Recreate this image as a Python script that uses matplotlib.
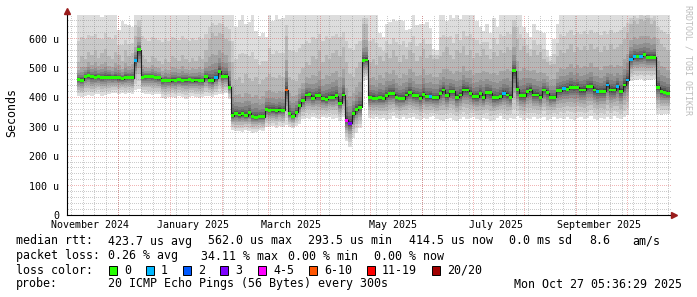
import numpy as np
import matplotlib
matplotlib.use("Agg")
import matplotlib.pyplot as plt
import matplotlib.dates as mdates
from matplotlib.patches import Rectangle
from matplotlib.transforms import IdentityTransform

plt.rcParams['font.family'] = ['DejaVu Sans Mono']

nan = np.nan

# RRD steps of 2 days starting 2024-11-01, values in microseconds
start = np.datetime64('2024-11-01T00:00')
end = np.datetime64('2025-10-27T05:36')
step_days = 2

median = [
    nan, nan, nan, 462, 458, 472, 474, 470, 468, 470,
    467, 468, 469, 467, 468, 466, 464, 467, 468, 467,
    525, 562, 468, 470, 472, 471, 467, 466, 457, 458,
    457, 459, 458, 460, 458, 459, 460, 457, 459, 458,
    457, 470, 458, 456, 466, 488, 471, 472, 434, 337,
    345, 340, 344, 338, 347, 335, 332, 334, 334, 360,
    356, 357, 354, 357, 356, 425, 345, 336, 350, 372,
    390, 408, 409, 397, 405, 406, 395, 393, 400, 401,
    405, 380, 408, 322, 312, 345, 358, 366, 526, 527,
    400, 397, 397, 398, 396, 405, 414, 412, 400, 397,
    396, 408, 416, 405, 405, 397, 410, 402, 402, 398,
    398, 414, 425, 405, 420, 420, 400, 408, 425, 425,
    414, 402, 402, 414, 398, 416, 416, 398, 398, 402,
    414, 408, 400, 490, 428, 405, 405, 420, 425, 408,
    408, 400, 425, 416, 400, 400, 423, 423, 430, 428,
    434, 434, 434, 425, 425, 437, 437, 425, 420, 420,
    420, 442, 425, 425, 437, 420, 442, 459, 530, 539,
    539, 539, 545, 537, 537, 537, 434, 420, 418, 414,
]

# lost pings (of 20) per step, all other steps had no loss
lost_pings = {20: 1, 44: 1, 65: 7, 83: 4, 84: 3, 108: 1, 130: 1, 148: 1,
              158: 1, 161: 1, 164: 1, 167: 1, 168: 1, 169: 1, 171: 1}

# fastest ping per step
smoke_lo = [
    nan, nan, nan, 404, 402, 406, 408, 404, 410, 412,
    405, 408, 411, 414, 416, 413, 415, 412, 414, 410,
    425, 430, 414, 412, 410, 408, 412, 410, 398, 396,
    400, 402, 398, 404, 400, 396, 402, 405, 400, 398,
    402, 406, 404, 400, 408, 412, 410, 415, 395, 290,
    284, 286, 282, 290, 285, 280, 283, 288, 285, 300,
    298, 302, 296, 304, 300, 306, 300, 296, 304, 310,
    325, 330, 328, 333, 330, 326, 332, 330, 334, 328,
    330, 320, 332, 250, 232, 262, 280, 295, 455, 458,
    330, 328, 332, 325, 330, 322, 328, 335, 330, 326,
    332, 325, 330, 334, 328, 322, 330, 327, 332, 335,
    328, 322, 318, 326, 330, 324, 320, 328, 332, 325,
    330, 334, 326, 322, 330, 328, 318, 324, 330, 335,
    326, 322, 330, 328, 335, 330, 324, 330, 328, 332,
    326, 330, 334, 322, 328, 332, 325, 330, 326, 334,
    328, 324, 330, 332, 326, 330, 335, 328, 322, 330,
    326, 332, 328, 335, 330, 326, 332, 340, 455, 460,
    458, 462, 456, 460, 458, 462, 345, 340, 342, 344,
]

# upper edge of the bulk of the pings
smoke_up = [
    nan, nan, nan, 520, 540, 530, 555, 545, 560, 535,
    550, 565, 540, 530, 555, 545, 525, 560, 540, 550,
    610, 640, 545, 530, 520, 540, 535, 525, 515, 530,
    520, 540, 535, 525, 545, 530, 520, 535, 525, 540,
    530, 560, 600, 620, 610, 620, 615, 600, 590, 520,
    460, 470, 450, 480, 465, 455, 470, 445, 460, 470,
    480, 470, 465, 475, 470, 610, 470, 460, 455, 480,
    500, 520, 510, 540, 530, 560, 520, 545, 530, 550,
    560, 540, 570, 520, 480, 470, 500, 520, 650, 650,
    520, 530, 510, 540, 525, 550, 535, 560, 540, 520,
    545, 530, 560, 550, 525, 540, 565, 535, 545, 530,
    530, 540, 555, 570, 545, 530, 560, 550, 575, 545,
    560, 535, 550, 540, 565, 545, 530, 555, 540, 560,
    550, 570, 560, 640, 600, 560, 575, 550, 540, 560,
    545, 555, 530, 520, 510, 515, 540, 560, 550, 565,
    580, 555, 570, 560, 575, 560, 580, 565, 570, 555,
    575, 560, 580, 565, 570, 580, 600, 620, 650, 660,
    650, 665, 660, 670, 650, 660, 600, 580, 570, 560,
]

# slowest ping per step (700 = off the top of the graph)
smoke_hi = [
    nan, nan, nan, 700, 700, 700, 700, 700, 700, 700,
    672, 700, 700, 700, 700, 630, 658, 648, 646, 640,
    700, 700, 700, 700, 700, 700, 700, 700, 700, 700,
    700, 700, 700, 700, 700, 700, 700, 700, 700, 700,
    700, 700, 700, 700, 700, 700, 700, 700, 700, 700,
    640, 662, 700, 650, 655, 700, 625, 610, 620, 605,
    700, 660, 700, 665, 670, 700, 700, 700, 700, 700,
    700, 700, 700, 700, 700, 700, 700, 700, 700, 700,
    700, 700, 700, 700, 700, 700, 700, 700, 700, 700,
    700, 700, 700, 620, 605, 650, 655, 665, 660, 663,
    660, 630, 632, 700, 645, 648, 650, 655, 636, 565,
    561, 700, 700, 660, 700, 670, 700, 665, 700, 700,
    700, 700, 660, 640, 625, 650, 620, 670, 640, 700,
    700, 700, 700, 700, 700, 700, 640, 620, 605, 650,
    630, 625, 620, 560, 540, 600, 650, 700, 700, 700,
    700, 700, 700, 700, 700, 700, 700, 700, 700, 700,
    700, 700, 700, 700, 700, 700, 700, 700, 700, 700,
    700, 700, 700, 700, 700, 700, 700, 700, 700, 700,
]

loss_labels = ['0', '1', '2', '3', '4-5', '6-10', '11-19', '20/20']
loss_upper = [0, 1, 2, 3, 5, 10, 19, 20]
loss_colors = ['#26ff00', '#00b8ff', '#0059ff', '#7e00ff',
               '#ff00ff', '#ff5500', '#ff0000', '#a10000']

stats_rtt = ['median rtt:', '423.7 us avg', '562.0 us max', '293.5 us min',
             '414.5 us now', '0.0 ms sd', '8.6', 'am/s']
stats_loss = ['packet loss:', '0.26 % avg', '34.11 % max', '0.00 % min', '0.00 % now']
probe_text = '20 ICMP Echo Pings (56 Bytes) every 300s'
stamp_text = 'Mon Oct 27 05:36:29 2025'

# ---------------------------------------------------------------
W, H = 697, 297
fig = plt.figure(figsize=(W / 100, H / 100), dpi=100)
fig.patch.set_facecolor('white')
ax = fig.add_axes([67 / W, 1 - 215 / H, 603 / W, 200 / H])

med = np.array(median, float)
lo = np.array(smoke_lo, float)
up = np.array(smoke_up, float)
hi = np.array(smoke_hi, float)
n = len(med)
loss = np.zeros(n)
for i, v in lost_pings.items():
    loss[i] = v

t0 = mdates.date2num(start)
xmax = mdates.date2num(end)
edges = t0 + np.arange(n + 1) * step_days
ax.set_xlim(t0, xmax)
ax.set_ylim(0, 680)

def ext(a):
    return np.append(a, a[-1])

# smoke: 10 bands from the outer pings (light) to the inner ones (dark)
low_frac = [1.0, 0.8, 0.62, 0.47, 0.35, 0.25, 0.17, 0.1, 0.055, 0.02]
up_frac = [1.0, 1.0, 1.0, 0.55, 0.35, 0.22, 0.14, 0.08, 0.045, 0.02]
for k in range(10):
    g = int(190 / 10 * (9 - k)) + 50
    col = '#%02x%02x%02x' % (g, g, g)
    bot = med - (med - lo) * low_frac[k]
    if k == 0:
        top = hi
    elif k == 1:
        top = up + (hi - up) * 0.4
    else:
        top = med + (up - med) * up_frac[k]
    ax.fill_between(edges, ext(bot), ext(top), step='post', color=col,
                    lw=0, zorder=1)

# grid on top of the smoke, drawn as 1px dots every other pixel
grid_minor = (0.5, 0.5, 0.5, 0.4)
grid_major = (0.85, 0.2, 0.2, 0.36)
x_px = ax.transData.transform([(t0, 0), (xmax, 0)])[:, 0]
y_px = ax.transData.transform([(t0, 0), (t0, 680)])[:, 1]
run_x = np.arange(np.floor(x_px[0]), x_px[1], 2) + 0.5
run_y = np.arange(np.floor(y_px[0]) + 1, y_px[1], 2) + 0.5

def hdots(v, color):
    y = np.floor(ax.transData.transform((t0, v))[1]) + 0.5
    ax.plot(run_x, np.full_like(run_x, y), ',', color=color,
            transform=IdentityTransform(), zorder=3)

def vdots(t, color):
    x = np.floor(ax.transData.transform((t, 0))[0]) + 0.5
    ax.plot(np.full_like(run_y, x), run_y, ',', color=color,
            transform=IdentityTransform(), zorder=3)

for y in range(20, 680, 20):
    hdots(y, grid_major if y % 100 == 0 else grid_minor)
sundays = np.arange(np.datetime64('2024-11-03'), end, np.timedelta64(7, 'D'))
for d in sundays:
    vdots(mdates.date2num(d), grid_minor)
months = np.arange(np.datetime64('2024-12'), np.datetime64('2025-11'),
                   np.timedelta64(1, 'M'))
for m in months:
    vdots(mdates.date2num(m.astype('datetime64[D]')), grid_major)

# median line with loss coloured boxes
ax.step(edges, ext(med), where='post', color='#202020', lw=0.8, zorder=4)
lower = -1
for ub, c in zip(loss_upper, loss_colors):
    mask = (loss > lower) & (loss <= ub) & ~np.isnan(med)
    lower = ub
    if mask.any():
        ax.bar(edges[:-1][mask], 10, width=step_days, bottom=med[mask] - 5,
               align='edge', color=c, lw=0, zorder=5)

for s in ['top', 'right']:
    ax.spines[s].set_visible(False)
for s in ['left', 'bottom']:
    ax.spines[s].set_color('#000000')
    ax.spines[s].set_linewidth(0.8)
    ax.spines[s].set_zorder(6)

arrow_col = '#9a1c1c'
ax.plot([t0, t0], [680, 692], color='#000000', lw=0.8, clip_on=False, zorder=6)
ax.plot([t0], [694], marker='^', ms=4.5, color=arrow_col, clip_on=False, zorder=7)
ax.plot([xmax, xmax + 1.2], [0, 0], color='#000000', lw=0.8, clip_on=False, zorder=6)
ax.plot([xmax + 2.2], [0], marker='>', ms=4.5, color=arrow_col, clip_on=False, zorder=7)

yt = [0, 100, 200, 300, 400, 500, 600]
ax.set_yticks(yt)
ax.set_yticklabels(['0' if v == 0 else '%d u' % v for v in yt])
label_months = ['2024-11-15', '2025-01-15', '2025-03-15', '2025-05-15',
                '2025-07-15', '2025-09-15']
ax.set_xticks([mdates.date2num(np.datetime64(d)) for d in label_months])
ax.xaxis.set_major_formatter(mdates.DateFormatter('%B %Y'))
ax.tick_params(axis='both', length=0, labelsize=7.2, colors='#000000')
ax.tick_params(axis='y', pad=5.5)
ax.tick_params(axis='x', pad=3.5)

fig.text(12 / W, 1 - 113 / H, 'Seconds', rotation=90, ha='center', va='center',
         fontsize=8.4)
fig.text(688 / W, 1 - 5 / H, 'RRDTOOL / TOBI OETIKER', rotation=270,
         ha='center', va='top', fontsize=6, color='#bcbcbc')

fs = 8.4
def line(y, items, xs):
    for s, x in zip(items, xs):
        fig.text(x / W, 1 - y / H, s, ha='left', va='center', fontsize=fs)

line(241, stats_rtt, [16, 108, 208, 308, 409, 509, 589, 632])
line(256, stats_loss, [16, 108, 201, 288, 374])
fig.text(16 / W, 1 - 270 / H, 'loss color:', ha='left', va='center', fontsize=fs)
box_x = [109, 146, 183, 220, 258, 309, 367, 432]
for bx, c, lab in zip(box_x, loss_colors, loss_labels):
    fig.patches.append(Rectangle((bx / W, 1 - 274.5 / H), 8 / W, 9 / H,
                                 transform=fig.transFigure, facecolor=c,
                                 edgecolor='#000000', lw=0.7))
    fig.text((bx + 15) / W, 1 - 270 / H, lab, ha='left', va='center', fontsize=fs)
line(284, ['probe:', probe_text], [16, 108])
fig.text(682 / W, 1 - 284 / H, stamp_text, ha='right', va='center', fontsize=fs)

fig.savefig('out.png', dpi=100, facecolor='white')
